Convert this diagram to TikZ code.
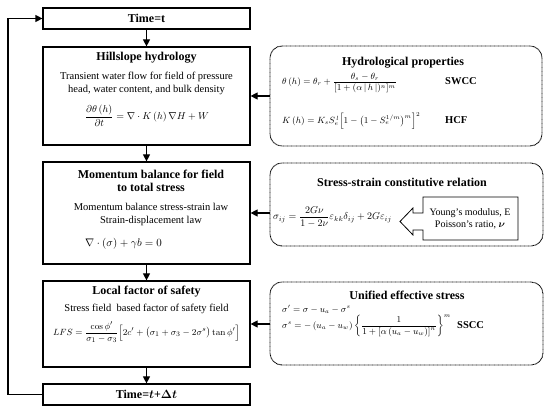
\documentclass[tikz,border=0pt]{standalone}
\usepackage{amsmath}
\usepackage[no-math]{fontspec}
\setmainfont{Liberation Serif}
\usetikzlibrary{arrows.meta}
\tikzset{
  mainbox/.style={draw, line width=1.2pt, inner sep=0pt, minimum width=207pt},
  propbox/.style={draw, line width=0.9pt, dash pattern=on 0.8pt off 0.5pt, rounded corners=12pt, inner sep=0pt},
  arr/.style={line width=1.2pt, -{Triangle[length=7pt,width=7pt]}},
  ttl/.style={font=\fontsize{12}{13}\selectfont\bfseries, inner sep=0pt},
  body/.style={font=\fontsize{10.5}{13}\selectfont, inner sep=0pt, align=center},
  eq/.style={font=\fontsize{9}{11}\selectfont, inner sep=0pt},
}
\begin{document}
\begin{tikzpicture}[x=1pt,y=-1pt]
\useasboundingbox (0,0) rectangle (550,411);
% left column boxes
\node[mainbox, minimum height=21pt] (t0) at (146.5,18.5) {};
\node[mainbox, minimum height=98pt] (hyd) at (146.5,96) {};
\node[mainbox, minimum height=102pt] (mom) at (146.5,213) {};
\node[mainbox, minimum height=86pt] (lfs) at (146.5,324) {};
\node[mainbox, minimum height=21pt] (t1) at (146.5,394.5) {};
% right boxes
\node[propbox, minimum width=272pt, minimum height=100pt] (hp) at (406,96) {};
\node[propbox, minimum width=273pt, minimum height=83pt] (ss) at (406.5,204.5) {};
\node[propbox, minimum width=273pt, minimum height=83pt] (ue) at (406.5,323.5) {};
% texts left
\node[ttl] (t0txt) at (t0) {Time=t};
\node[ttl] (hydt) at (146.5,58) {Hillslope hydrology};
\node[body] (hydb) at (146.5,83) {Transient water flow for field of pressure\\head, water content, and bulk density};
\node[eq, font=\fontsize{10}{12}\selectfont] (hyde) at (147,116) {$\dfrac{\partial\theta\left(h\right)}{\partial t}=\nabla\cdot K\left(h\right)\nabla H+W$};
\node[ttl, align=center] (momt) at (151,181) {Momentum balance for field\\to total stress};
\node[body] (momb) at (151,214.5) {Momentum balance stress-strain law\\Strain-displacement law};
\node[eq, font=\fontsize{11}{13}\selectfont, anchor=west] (mome) at (85,244) {$\nabla\cdot\left(\sigma\right)+\gamma b=0$};
\node[ttl] (lfst) at (146.5,292) {Local factor of safety};
\node[body] (lfsb) at (146.5,309) {Stress field\ \ based factor of safety field};
\node[eq, font=\fontsize{9.5}{11}\selectfont] (lfse) at (146.5,332) {$LFS=\dfrac{\cos\phi'}{\sigma_1-\sigma_3}\Big[2c'+\big(\sigma_1+\sigma_3-2\sigma^s\big)\tan\phi'\Big]$};
\node[ttl] (t1txt) at (t1) {Time=$\boldsymbol{t}$+$\boldsymbol{\Delta t}$};
% texts right
\node[ttl] (hpt) at (403,63) {Hydrological properties};
\node[eq, anchor=west] (hpe1) at (282,83) {$\theta\left(h\right)=\theta_r+\dfrac{\theta_s-\theta_r}{[1+(\alpha\,|\,h\,|)^n]^m}$};
\node[ttl, font=\fontsize{10.5}{12}\selectfont\bfseries, anchor=west] (swcc) at (445,81) {SWCC};
\node[eq, anchor=west] (hpe2) at (282,121) {$K\left(h\right)=K_sS_e^{\,l}\Big[1-\big(1-S_e^{1/m}\big)^m\Big]^2$};
\node[ttl, font=\fontsize{10.5}{12}\selectfont\bfseries, anchor=west] (hcf) at (445,120) {HCF};
\node[ttl] (sst) at (402,182) {Stress-strain constitutive relation};
\node[eq, font=\fontsize{10}{12}\selectfont, anchor=west] (sse) at (273,217) {$\sigma_{ij}=\dfrac{2G\nu}{1-2\nu}\varepsilon_{kk}\delta_{ij}+2G\varepsilon_{ij}$};
\node[ttl] (uet) at (407,295) {Unified effective stress};
\node[eq, anchor=west] (uee1) at (282,309) {$\sigma'=\sigma-u_a-\sigma^s$};
\node[eq, anchor=west] (uee2) at (282,326) {$\sigma^s=-\left(u_a-u_w\right)\left\{\dfrac{1}{1+\left[\alpha\left(u_a-u_w\right)\right]^n}\right\}^m$};
\node[ttl, font=\fontsize{10.5}{12}\selectfont\bfseries, anchor=west] (sscc) at (457,325) {SSCC};
% Young's modulus callout
\coordinate (yb) at (470,218.5);
\draw[line width=0.8pt, fill=white] (423,197) -- (518,197) -- (518,240) -- (423,240) -- (423,230) -- (413,230) -- (413,235) -- (400,221.5) -- (413,208) -- (413,213) -- (423,213) -- cycle;
\node[body, font=\fontsize{10}{12}\selectfont] (yng) at (yb) {Young's modulus, E\\Poisson's ratio, $\boldsymbol{\nu}$};
% connectors
\draw[arr] (t0) -- (hyd);
\draw[arr] (hyd) -- (mom);
\draw[arr] (mom) -- (lfs);
\draw[arr] (lfs) -- (t1);
\draw[arr] (hyd.east -| hp.west) -- (hyd.east);
\draw[arr] (mom.east -| ss.west) -- (mom.east);
\draw[arr] (lfs.east -| ue.west) -- (lfs.east);
\coordinate (lp) at (8,0);
\draw[arr] (t1.west) -- (t1.west -| lp) -- (t0.west -| lp) -- (t0.west);
\end{tikzpicture}
\end{document}
